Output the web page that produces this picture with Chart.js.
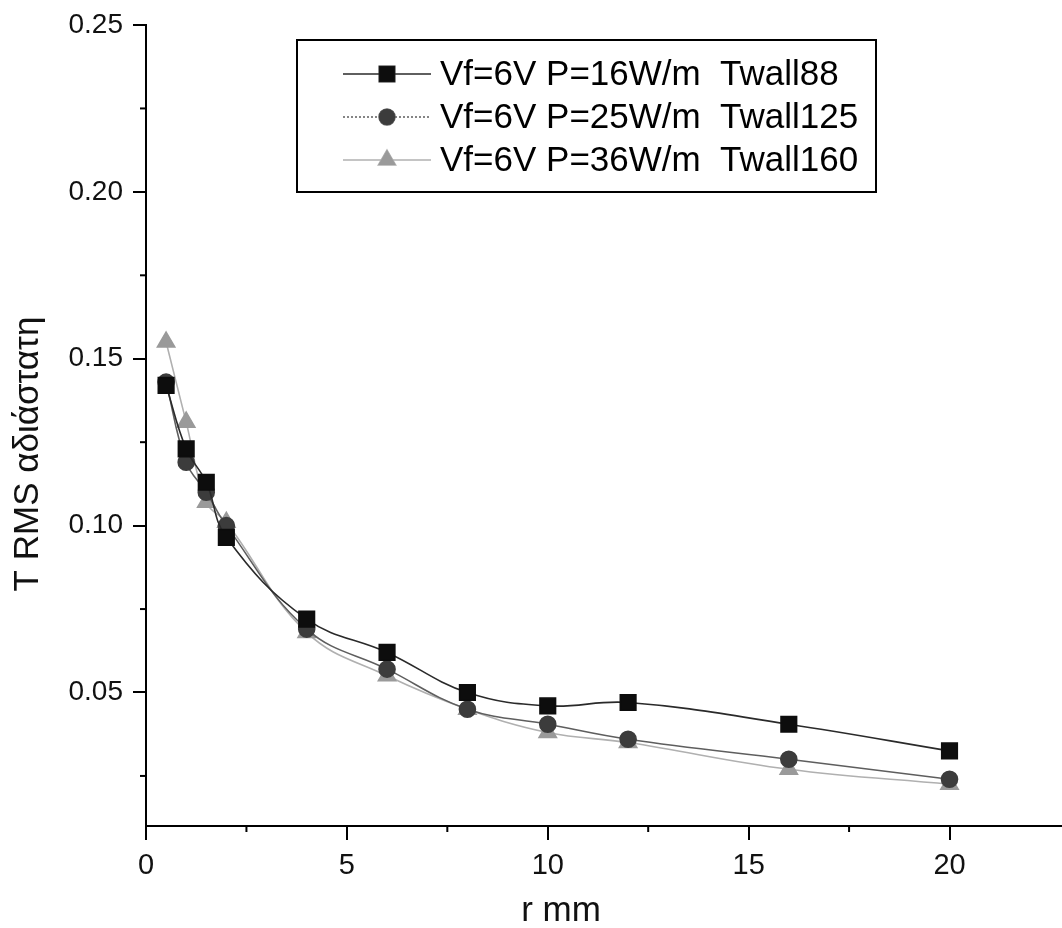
<!DOCTYPE html>
<html>
<head>
<meta charset="utf-8">
<script src="https://cdn.jsdelivr.net/npm/chart.js@4.4.1/dist/chart.umd.min.js"></script>
<style>
  html, body { margin: 0; padding: 0; background: #fff; overflow: hidden; }
  canvas { display: block; }
</style>
</head>
<body>
<canvas id="canvas" width="1062" height="928"></canvas>
<script>
const ctx = document.getElementById("canvas");

// r positions (mm)
const rValues = [0.5, 1, 1.5, 2, 4, 6, 8, 10, 12, 16, 20];

// T RMS values per heating power
const trmsTwall88 = [0.142, 0.123, 0.113, 0.0965, 0.072, 0.062, 0.050, 0.046, 0.047, 0.0405, 0.0325];
const trmsTwall125 = [0.143, 0.119, 0.110, 0.100, 0.069, 0.057, 0.045, 0.0405, 0.036, 0.030, 0.024];
const trmsTwall160 = [0.155, 0.131, 0.107, 0.101, 0.068, 0.055, 0.045, 0.038, 0.035, 0.027, 0.0225];

const seriesLabels = [
  "Vf=6V P=16W/m  Twall88",
  "Vf=6V P=25W/m  Twall125",
  "Vf=6V P=36W/m  Twall160",
];

const xTitle = "r mm";
const yTitle = "T RMS αδιάστατη";

const xMajorTicks = [0, 5, 10, 15, 20];
const xMinorTicks = [2.5, 7.5, 12.5, 17.5];
const yMajorTicks = [0.05, 0.10, 0.15, 0.20, 0.25];
const yMinorTicks = [0.025, 0.075, 0.125, 0.175, 0.225];

const FONT = "'Liberation Sans', Arial, sans-serif";

function toPoints(ys) {
  return rValues.map((x, i) => ({ x: x, y: ys[i] }));
}

// small outward minor ticks on both axes
const minorTicks = {
  id: "minorTicks",
  afterDraw(chart) {
    const { ctx, scales } = chart;
    ctx.save();
    ctx.strokeStyle = "#000";
    ctx.lineWidth = 2;
    xMinorTicks.forEach((v) => {
      const px = scales.x.getPixelForValue(v);
      ctx.beginPath();
      ctx.moveTo(px, scales.x.top);
      ctx.lineTo(px, scales.x.top + 6);
      ctx.stroke();
    });
    yMinorTicks.forEach((v) => {
      const py = scales.y.getPixelForValue(v);
      ctx.beginPath();
      ctx.moveTo(scales.y.right, py);
      ctx.lineTo(scales.y.right - 6, py);
      ctx.stroke();
    });
    ctx.restore();
  },
};

// axis titles sit a bit off-centre in the original, so place them by hand
const axisTitles = {
  id: "axisTitles",
  afterDraw(chart) {
    const { ctx } = chart;
    ctx.save();
    ctx.fillStyle = "#111";
    ctx.font = "35px " + FONT;
    ctx.textAlign = "center";
    ctx.textBaseline = "alphabetic";
    ctx.fillText(xTitle, 561, 921);
    ctx.translate(38, 454);
    ctx.rotate(-Math.PI / 2);
    ctx.fillText(yTitle, 0, 0);
    ctx.restore();
  },
};

// boxed legend inside the plot, like the original
const boxLegend = {
  id: "boxLegend",
  afterDraw(chart) {
    const { ctx } = chart;
    const left = 297, top = 40, right = 876, bottom = 192;
    ctx.save();
    ctx.fillStyle = "#fff";
    ctx.fillRect(left, top, right - left, bottom - top);
    ctx.strokeStyle = "#000";
    ctx.lineWidth = 2;
    ctx.strokeRect(left, top, right - left, bottom - top);

    ctx.font = "35px " + FONT;
    ctx.textBaseline = "middle";
    ctx.textAlign = "left";
    chart.data.datasets.forEach((ds, i) => {
      const y = 74 + i * 43;
      ctx.strokeStyle = ds.borderColor;
      ctx.lineWidth = 1.5;
      ctx.setLineDash(i === 1 ? [2, 2] : []);
      ctx.beginPath();
      ctx.moveTo(343, y);
      ctx.lineTo(431, y);
      ctx.stroke();
      ctx.setLineDash([]);
      Chart.helpers.drawPoint(ctx, {
        pointStyle: ds.pointStyle,
        radius: ds.pointRadius,
        borderWidth: 1,
      }, 387, y);
      ctx.fillStyle = ds.pointBackgroundColor;
      ctx.strokeStyle = ds.pointBorderColor;
      ctx.fill();
      ctx.fillStyle = "#000";
      ctx.fillText(ds.label, 440, y + 1);
    });
    ctx.restore();
  },
};

const data = {
  datasets: [
    {
      label: seriesLabels[0],
      data: toPoints(trmsTwall88),
      borderColor: "#2a2a2a",
      borderWidth: 1.6,
      pointStyle: "rect",
      pointRadius: 11,
      pointBackgroundColor: "#0d0d0d",
      pointBorderColor: "#0d0d0d",
      tension: 0.4,
    },
    {
      label: seriesLabels[1],
      data: toPoints(trmsTwall125),
      borderColor: "#5e5e5e",
      borderWidth: 1.6,
      pointStyle: "circle",
      pointRadius: 8,
      pointBackgroundColor: "#3c3c3c",
      pointBorderColor: "#3c3c3c",
      tension: 0.4,
    },
    {
      label: seriesLabels[2],
      data: toPoints(trmsTwall160),
      borderColor: "#b0b0b0",
      borderWidth: 1.6,
      pointStyle: "triangle",
      pointRadius: 10,
      pointBackgroundColor: "#9a9a9a",
      pointBorderColor: "#9a9a9a",
      tension: 0.4,
    },
  ],
};

const config = {
  type: "line",
  data: data,
  plugins: [minorTicks, axisTitles, boxLegend],
  options: {
    responsive: false,
    animation: false,
    layout: {
      autoPadding: false, // point radius would otherwise shrink the plot
      padding: { top: 25, right: 0, left: 0, bottom: 0 },
    },
    plugins: {
      legend: { display: false },
      tooltip: { enabled: false },
    },
    scales: {
      x: {
        type: "linear",
        min: 0,
        max: 22.8,
        afterBuildTicks(scale) {
          scale.ticks = xMajorTicks.map((v) => ({ value: v }));
        },
        afterFit(scale) {
          scale.height = 102;
          scale.paddingLeft = 0;
          scale.paddingRight = 0;
        },
        border: { display: true, color: "#000", width: 2 },
        grid: {
          display: true,
          drawOnChartArea: false,
          drawTicks: true,
          tickLength: 14,
          color: "#000",
          lineWidth: 2,
        },
        ticks: {
          color: "#111",
          padding: 9,
          maxRotation: 0,
          font: { family: FONT, size: 29 },
          callback: (v) => String(v),
        },
      },
      y: {
        type: "linear",
        min: 0.01,
        max: 0.25,
        afterBuildTicks(scale) {
          scale.ticks = yMajorTicks.map((v) => ({ value: v }));
        },
        afterFit(scale) {
          scale.width = 146;
          scale.paddingTop = 0;
          scale.paddingBottom = 0;
        },
        border: { display: true, color: "#000", width: 2 },
        grid: {
          display: true,
          drawOnChartArea: false,
          drawTicks: true,
          tickLength: 13,
          color: "#000",
          lineWidth: 2,
        },
        ticks: {
          color: "#111",
          padding: 10,
          font: { family: FONT, size: 28 },
          callback: (v) => v.toFixed(2),
        },
      },
    },
  },
};

new Chart(ctx, config);
</script>
</body>
</html>
